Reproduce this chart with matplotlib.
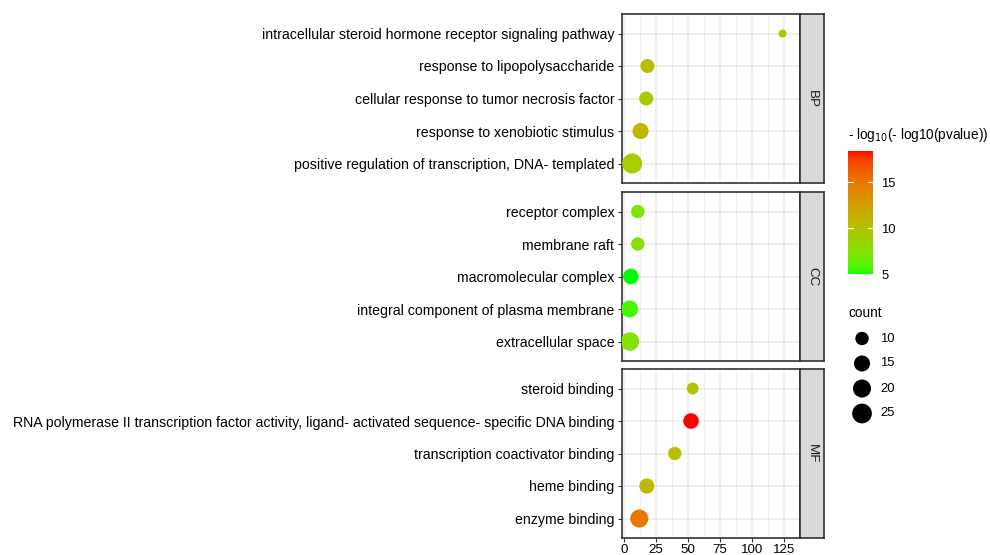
import numpy as np
import matplotlib
matplotlib.use('Agg')
import matplotlib.pyplot as plt
from matplotlib.colors import ListedColormap, Normalize

plt.rcParams['font.family'] = ['Liberation Sans', 'DejaVu Sans']

# Данные по трём онтологиям (сверху вниз)
bp_terms = ["intracellular steroid hormone receptor signaling pathway",
            "response to lipopolysaccharide",
            "cellular response to tumor necrosis factor",
            "response to xenobiotic stimulus",
            "positive regulation of transcription, DNA- templated"]
bp_x = [123.9, 18.4, 17.4, 13.0, 6.4]
bp_count = [6, 11, 11, 15, 26]
bp_logp = [9.5, 10.3, 9.4, 11.0, 9.1]

cc_terms = ["receptor complex",
            "membrane raft",
            "macromolecular complex",
            "integral component of plasma membrane",
            "extracellular space"]
cc_x = [10.8, 10.8, 5.4, 4.4, 4.7]
cc_count = [10, 10, 14, 17, 21]
cc_logp = [7.0, 7.6, 5.0, 5.6, 7.4]

mf_terms = ["steroid binding",
            "RNA polymerase II transcription factor activity, ligand- activated sequence- specific DNA binding",
            "transcription coactivator binding",
            "heme binding",
            "enzyme binding"]
mf_x = [53.7, 52.4, 39.7, 17.9, 12.0]
mf_count = [8, 14, 10, 13, 20]
mf_logp = [10.0, 18.4, 10.2, 10.8, 15.0]

facets = ["BP", "CC", "MF"]
x_ticks = [0, 25, 50, 75, 100, 125]
size_breaks = [10, 15, 20, 25]
color_breaks = [5, 10, 15]


# Градиент зелёный -> красный в пространстве Lab (как в ggplot)
def srgb_to_lab(rgb):
    c = np.asarray(rgb, dtype=float)
    c = np.where(c > 0.04045, ((c + 0.055) / 1.055) ** 2.4, c / 12.92)
    m = np.array([[0.4124, 0.3576, 0.1805],
                  [0.2126, 0.7152, 0.0722],
                  [0.0193, 0.1192, 0.9505]])
    xyz = m @ c / np.array([0.95047, 1.0, 1.08883])
    f = np.where(xyz > 0.008856, np.cbrt(xyz), 7.787 * xyz + 16 / 116)
    return np.array([116 * f[1] - 16, 500 * (f[0] - f[1]), 200 * (f[1] - f[2])])


def lab_to_srgb(lab):
    L, a, b = lab
    fy = (L + 16) / 116
    fx = fy + a / 500
    fz = fy - b / 200
    f = np.array([fx, fy, fz])
    xyz = np.where(f ** 3 > 0.008856, f ** 3, (f - 16 / 116) / 7.787)
    xyz = xyz * np.array([0.95047, 1.0, 1.08883])
    m = np.array([[3.2406, -1.5372, -0.4986],
                  [-0.9689, 1.8758, 0.0415],
                  [0.0557, -0.2040, 1.0570]])
    c = m @ xyz
    c = np.where(c > 0.0031308, 1.055 * np.clip(c, 0, None) ** (1 / 2.4) - 0.055, 12.92 * c)
    return np.clip(c, 0, 1)


lab_lo = srgb_to_lab([0, 1, 0])
lab_hi = srgb_to_lab([1, 0, 0])
cols = [lab_to_srgb(lab_lo + t * (lab_hi - lab_lo)) for t in np.linspace(0, 1, 256)]
cmap = ListedColormap(cols)

all_logp = bp_logp + cc_logp + mf_logp
all_count = bp_count + cc_count + mf_count
norm = Normalize(min(all_logp), max(all_logp))
cmin, cmax = min(all_count), max(all_count)


def point_area(c):
    c = np.asarray(c, dtype=float)
    d_px = 8 + 12 * np.sqrt((c - cmin) / (cmax - cmin))
    return (d_px * 0.72) ** 2


fig = plt.figure(figsize=(9.9, 5.55), dpi=100)
W, H = 990, 555

panels = [(bp_terms, bp_x, bp_count, bp_logp, 14),
          (cc_terms, cc_x, cc_count, cc_logp, 192),
          (mf_terms, mf_x, mf_count, mf_logp, 369)]

for k, (terms, xs, counts, logp, top) in enumerate(panels):
    ax = fig.add_axes([622 / W, 1 - (top + 169) / H, 178 / W, 169 / H])
    n = len(terms)
    ys = np.arange(n)
    ax.set_xlim(-1.5, 129.4)
    ax.set_ylim(n - 1 + 0.6, -0.6)
    ax.set_xticks(x_ticks)
    ax.set_xticks([t + 12.5 for t in x_ticks], minor=True)
    ax.set_yticks(ys)
    ax.set_yticklabels(terms)
    ax.grid(which='major', color='#EBEBEB', linewidth=1.1, zorder=0)
    ax.grid(which='minor', axis='x', color='#EBEBEB', linewidth=0.55, zorder=0)
    ax.set_axisbelow(True)
    ax.scatter(xs, ys, s=point_area(counts), c=logp, cmap=cmap, norm=norm,
               linewidths=0, zorder=3)
    for sp in ax.spines.values():
        sp.set_color('#333333')
        sp.set_linewidth(1.2)
    ax.tick_params(axis='both', which='major', length=3, width=0.8, color='#333333',
                   labelsize=10.2, labelcolor='black', pad=2.5)
    ax.tick_params(axis='x', which='minor', length=0)
    if k < 2:
        ax.tick_params(axis='x', labelbottom=False, length=0)
    else:
        ax.tick_params(axis='x', labelsize=9.6, pad=1.2)

    # Полоса фасета справа
    sax = fig.add_axes([800 / W, 1 - (top + 169) / H, 24 / W, 169 / H])
    sax.set_facecolor('#D9D9D9')
    sax.set_xticks([])
    sax.set_yticks([])
    for sp in sax.spines.values():
        sp.set_color('#333333')
        sp.set_linewidth(1.2)
    sax.text(0.5, 0.5, facets[k], rotation=-90, ha='center', va='center',
             fontsize=9.6, color='#1A1A1A', transform=sax.transAxes)

# Легенда цвета
fig.text(848 / W, 1 - 135 / H, r"- log$_{10}$(- log10(pvalue))", fontsize=9.8,
         ha='left', va='center')
cax = fig.add_axes([848 / W, 1 - 274 / H, 25 / W, 123 / H])
grad = np.linspace(norm.vmin, norm.vmax, 256)[:, None]
cax.imshow(grad, aspect='auto', cmap=cmap, norm=norm, origin='lower',
           extent=[0, 1, norm.vmin, norm.vmax])
for b in color_breaks:
    cax.plot([0, 0.2], [b, b], color='white', linewidth=0.8)
    cax.plot([0.8, 1], [b, b], color='white', linewidth=0.8)
cax.set_xlim(0, 1)
cax.set_ylim(norm.vmin, norm.vmax)
cax.set_xticks([])
cax.yaxis.tick_right()
cax.set_yticks(color_breaks)
cax.set_yticklabels([str(b) for b in color_breaks])
cax.tick_params(axis='y', length=0, pad=6, labelsize=9.4)
for sp in cax.spines.values():
    sp.set_visible(False)

# Легенда размера
fig.text(848 / W, 1 - 313 / H, "count", fontsize=9.8, ha='left', va='center')
lax = fig.add_axes([848 / W, 1 - 426 / H, 28 / W, 100 / H])
lax.set_xlim(0, 1)
lax.set_ylim(len(size_breaks) - 0.5, -0.5)
lax.scatter([0.5] * len(size_breaks), range(len(size_breaks)),
            s=point_area(size_breaks), color='black', linewidths=0)
lax.axis('off')
for i, b in enumerate(size_breaks):
    lax.text(1.15, i, str(b), fontsize=9.4, ha='left', va='center')

fig.savefig('out.png', dpi=100)
